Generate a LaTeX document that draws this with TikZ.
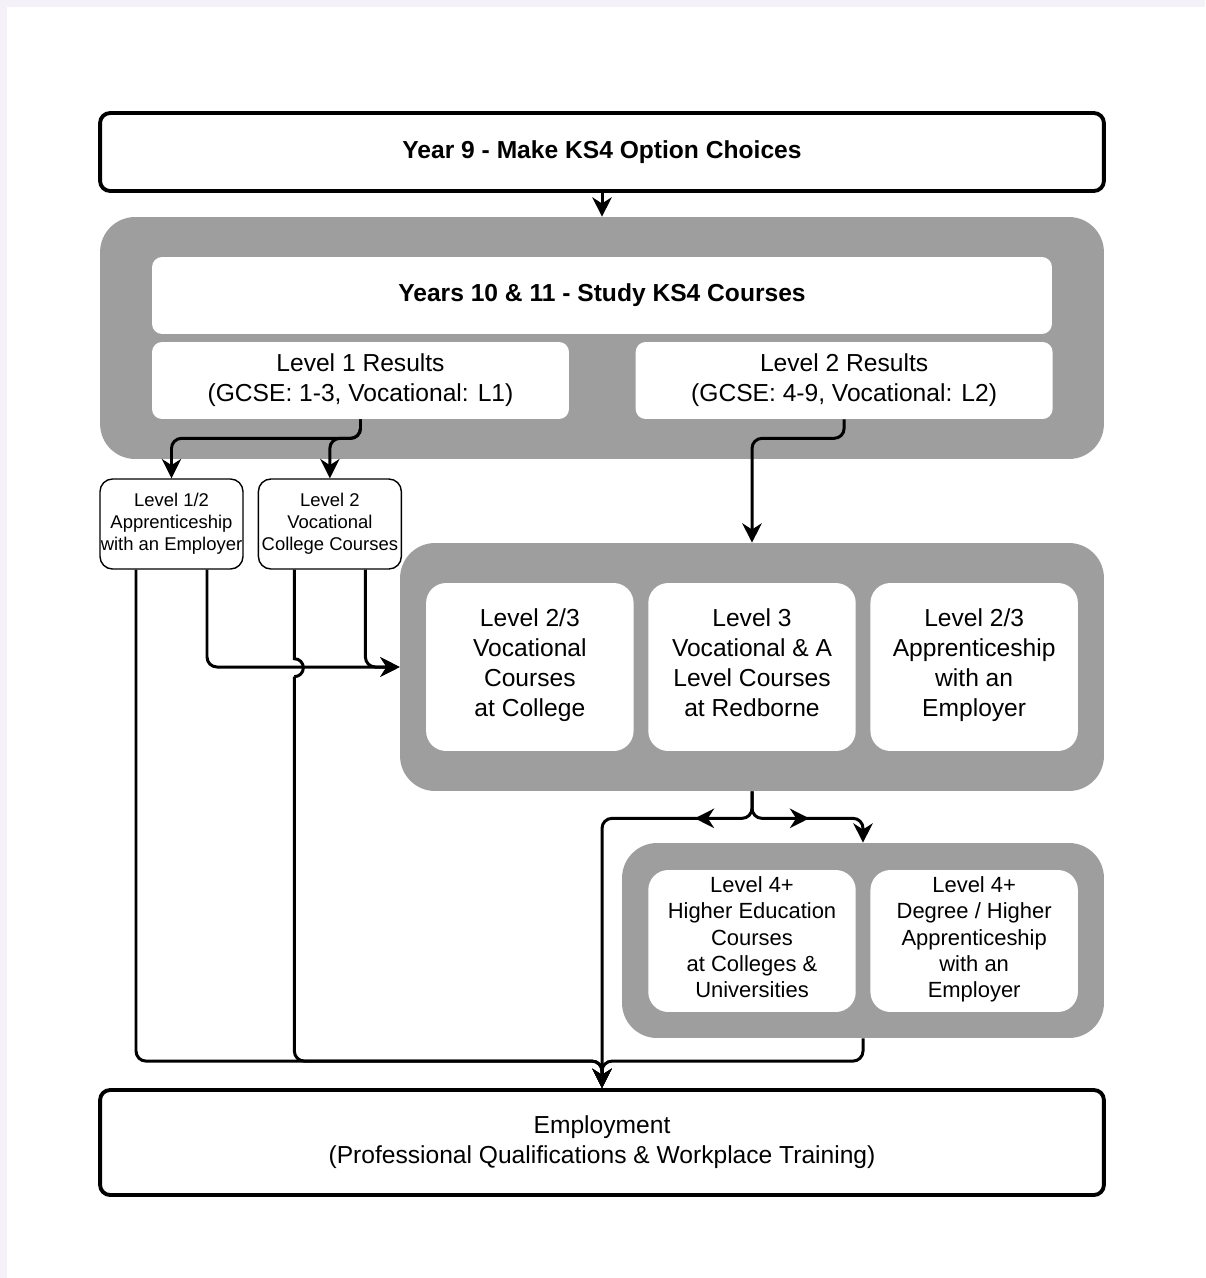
\documentclass[tikz,border=0pt]{standalone}
\usepackage{fontspec}
\setmainfont{Liberation Sans}
\usetikzlibrary{positioning, calc, arrows.meta, decorations.markings}
\definecolor{panelgray}{RGB}{158,158,158}
\definecolor{framelilac}{RGB}{244,242,248}

\begin{document}
\begin{tikzpicture}[x=0.02cm, y=-0.02cm]
    \tikzstyle{heavy} = [draw, rounded corners=0.2cm, line width=2.2pt, align=center, minimum width=20.08cm];
    \tikzstyle{panel} = [fill=panelgray, rounded corners=0.7cm];
    \tikzstyle{result} = [fill=white, rounded corners=0.2cm, align=center, minimum height=1.54cm, font=\fontsize{14}{17}\selectfont];
    \tikzstyle{route} = [draw, rounded corners=0.25cm, line width=0.8pt, align=center, minimum width=2.86cm, minimum height=1.8cm, inner sep=0pt, font=\fontsize{10.5}{12.5}\selectfont];
    \tikzstyle{option} = [fill=white, rounded corners=0.4cm, align=center, minimum width=4.15cm, inner sep=0pt, execute at begin node=\strut, execute at end node=\strut];
    \tikzstyle{link} = [line width=1.7pt, rounded corners=0.2cm];
    \tikzstyle{tip} = [-{Stealth[length=11pt, width=11pt, inset=3.5pt]}];
    \tikzstyle{midtip} = [postaction={decorate, decoration={markings, mark=at position 1.6cm with {\arrow{Stealth[length=11pt, width=11pt, inset=3.5pt]}}}}];

    % page
    \fill[framelilac] (0,0) rectangle (1205,1278);
    \fill[white] (7,7) rectangle (1205,1278);
    \useasboundingbox (0,0) rectangle (1205,1278);

    % year 9
    \node[heavy, minimum height=1.56cm, font=\fontsize{14}{17}\selectfont\bfseries] (year9) at (602,152) {Year 9 - Make KS4 Option Choices};

    % years 10 and 11
    \node[panel, minimum width=20.08cm, minimum height=4.84cm] (ks4) at (602,338) {};
    \node[result, minimum width=18cm, font=\fontsize{14}{17}\selectfont\bfseries] (study) at (602,295.5) {Years 10 \& 11 - Study KS4 Courses};
    \node[result, minimum width=8.34cm] (l1res) at (360.5,380.5) {Level 1 Results\\(GCSE: 1-3, Vocational: L1)};
    \node[result, minimum width=8.34cm, right=1.32cm of l1res] (l2res) {Level 2 Results\\(GCSE: 4-9, Vocational: L2)};

    % level 1 routes
    \node[route] (lapp) at (171.5,524) {Level 1/2\\Apprenticeship\\with an Employer};
    \node[route, right=0.28cm of lapp] (lvoc) {Level 2\\Vocational\\College Courses};

    % post 16
    \node[panel, minimum width=14.08cm, minimum height=4.96cm] (post16) at (752,667) {};
    \node[option, minimum height=3.36cm, font=\fontsize{14}{17}\selectfont] (colvoc) at (752,667) {Level 3\\Vocational \& A\\Level Courses\\at Redborne};
    \node[option, minimum height=3.36cm, font=\fontsize{14}{17}\selectfont, left=0.28cm of colvoc] (l23voc) {Level 2/3\\Vocational\\Courses\\at College};
    \node[option, minimum height=3.36cm, font=\fontsize{14}{17}\selectfont, right=0.28cm of colvoc] (l23app) {Level 2/3\\Apprenticeship\\with an\\Employer};

    % post 18
    \node[panel, minimum width=9.64cm, minimum height=3.9cm] (post18) at (863,940.5) {};
    \node[option, minimum height=2.84cm, font=\fontsize{12.5}{15}\selectfont] (hecourse) at (752,941) {Level 4+\\Higher Education\\Courses\\at Colleges \&\\Universities};
    \node[option, minimum height=2.84cm, font=\fontsize{12.5}{15}\selectfont, right=0.28cm of hecourse] (degapp) {Level 4+\\Degree / Higher\\Apprenticeship\\with an\\Employer};

    % employment
    \node[heavy, minimum height=2.1cm, font=\fontsize{14}{17}\selectfont] (employ) at (602,1142.5) {Employment\\(Professional Qualifications \& Workplace Training)};
    \coordinate (merge) at ($(employ.north)+(0,-27)$);

    % arrows
    \draw[link, tip] (year9.south) -- (ks4.north);
    \draw[link, tip] (l1res.south) -- ++(0,19) -| (lapp.north);
    \draw[link, tip] (l1res.south) -- ++(0,19) -| (lvoc.north);
    \draw[link, tip] (l2res.south) -- ++(0,19) -| (post16.north);

    \draw[link, tip] ($(lapp.south)+(35.5,0)$) |- (post16.west);
    \draw[link, tip] ($(lvoc.south)+(35.5,0)$) |- (post16.west);

    \draw[line width=1.7pt] ($(lvoc.south)+(-35.5,0)$) -- ++(0,89) arc[start angle=90, end angle=-90, radius=0.18cm] coordinate (vjump);
    \draw[link, tip] (vjump) |- (merge) -- (employ.north);
    \draw[link, tip] ($(lapp.south)+(-35.5,0)$) |- (merge) -- (employ.north);

    \draw[link, tip, midtip] (post16.south) -- ++(0,27) -| (employ.north);
    \draw[link, tip, midtip] (post16.south) -- ++(0,27) -| (post18.north);
    \draw[link, tip] (post18.south) |- (merge) -- (employ.north);
\end{tikzpicture}
\end{document}
